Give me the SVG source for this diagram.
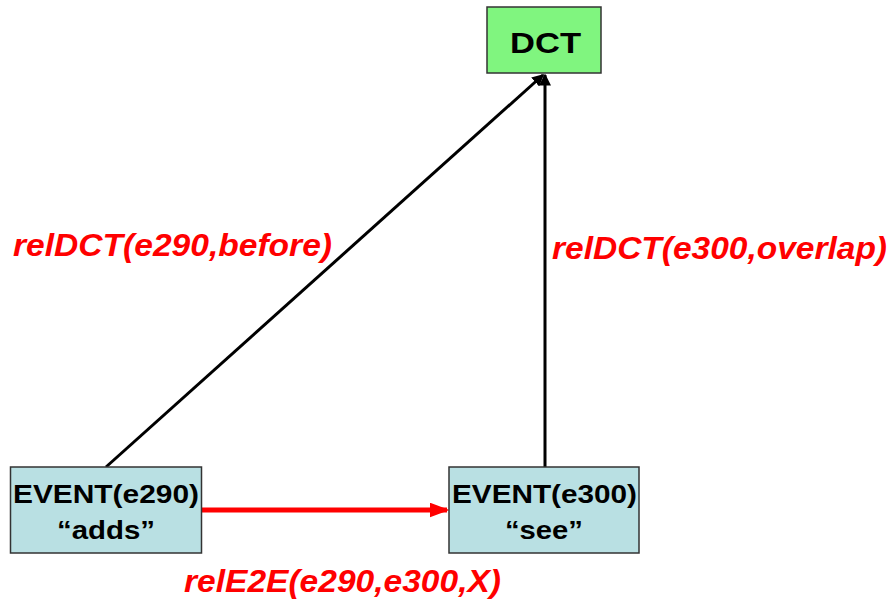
<svg xmlns="http://www.w3.org/2000/svg" width="890" height="603" viewBox="0 0 890 603">
  <style>
    .box { stroke: #333; stroke-width: 1.5; }
    .dct { fill: #80f57f; }
    .event { fill: #b9e0e3; }
    .lbl { font-family: "Liberation Sans", Arial, sans-serif; font-weight: bold; fill: #000; text-anchor: start; }
    .rel { font-family: "Liberation Sans", Arial, sans-serif; font-weight: bold; font-style: italic; fill: #ff0000; font-size: 32px; }
    .edge { fill: none; stroke: #000; stroke-width: 3; }
    .edge-red { fill: none; stroke: #ff0000; stroke-width: 5; }
  </style>
  <defs>
    <marker id="ah" markerWidth="4" markerHeight="4" refX="3.5" refY="2" orient="auto" markerUnits="strokeWidth">
      <path d="M0,0 L4,2 L0,4 z" fill="#000"/>
    </marker>
    <marker id="ah-red" markerWidth="4" markerHeight="3" refX="3.5" refY="1.5" orient="auto" markerUnits="strokeWidth">
      <path d="M0,0 L4,1.5 L0,3 z" fill="#ff0000"/>
    </marker>
  </defs>

  <g id="connectors">
    <line class="edge" x1="106" y1="467" x2="543" y2="75" marker-end="url(#ah)"/>
    <line class="edge" x1="545" y1="467" x2="545" y2="75" marker-end="url(#ah)"/>
    <line class="edge-red" x1="201" y1="510" x2="447" y2="510" marker-end="url(#ah-red)"/>
    <text class="rel" x="13" y="256" textLength="319" lengthAdjust="spacingAndGlyphs">relDCT(e290,before)</text>
    <text class="rel" x="552" y="259" textLength="335" lengthAdjust="spacingAndGlyphs">relDCT(e300,overlap)</text>
    <text class="rel" x="184" y="592" textLength="317" lengthAdjust="spacingAndGlyphs">relE2E(e290,e300,X)</text>
  </g>

  <g id="dct">
    <rect class="box dct" x="487" y="7" width="114" height="66"/>
    <text class="lbl" x="510" y="53" font-size="30" textLength="71" lengthAdjust="spacingAndGlyphs">DCT</text>
  </g>

  <g id="e290">
    <rect class="box event" x="10.5" y="467" width="191" height="86"/>
    <text class="lbl" x="13" y="503" font-size="26" textLength="186" lengthAdjust="spacingAndGlyphs">EVENT(e290)</text>
    <text class="lbl" x="57" y="539" font-size="26" textLength="98" lengthAdjust="spacingAndGlyphs">“adds”</text>
  </g>

  <g id="e300">
    <rect class="box event" x="449" y="467" width="190" height="86"/>
    <text class="lbl" x="452" y="503" font-size="26" textLength="185" lengthAdjust="spacingAndGlyphs">EVENT(e300)</text>
    <text class="lbl" x="505" y="539" font-size="26" textLength="78" lengthAdjust="spacingAndGlyphs">“see”</text>
  </g>
</svg>
